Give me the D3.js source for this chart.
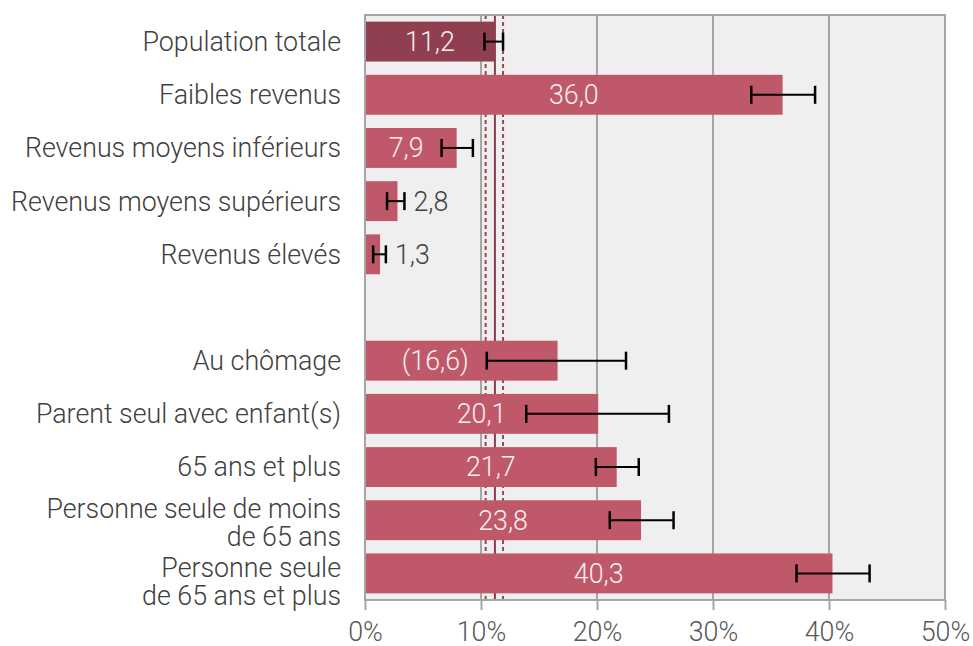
<!DOCTYPE html>
<html><head><meta charset="utf-8">
<script src="https://cdn.jsdelivr.net/npm/d3@7"></script>
<style>
body{margin:0;background:#fff;}
svg{font-family:Roboto,"Noto Sans",sans-serif;}
</style></head>
<body><svg id="c" width="973" height="646"></svg>
<script>
// Data
const categories = [
  ["Population totale"],
  ["Faibles revenus"],
  ["Revenus moyens inférieurs"],
  ["Revenus moyens supérieurs"],
  ["Revenus élevés"],
  null,
  ["Au chômage"],
  ["Parent seul avec enfant(s)"],
  ["65 ans et plus"],
  ["Personne seule de moins", "de 65 ans"],
  ["Personne seule", "de 65 ans et plus"]
];
const values = [11.2, 36.0, 7.9, 2.8, 1.3, null, 16.6, 20.1, 21.7, 23.8, 40.3];
const valueLabels = ["11,2", "36,0", "7,9", "2,8", "1,3", null, "(16,6)", "20,1", "21,7", "23,8", "40,3"];
const lower = [10.3, 33.3, 6.6, 1.9, 0.7, null, 10.5, 13.9, 19.9, 21.1, 37.2];
const upper = [11.9, 38.8, 9.3, 3.4, 1.8, null, 22.5, 26.2, 23.6, 26.6, 43.5];
const refMean = 11.2, refLow = 10.4, refHigh = 11.9;
const xTicks = [0, 10, 20, 30, 40, 50];
const xTickLabels = ["0%", "10%", "20%", "30%", "40%", "50%"];

const FS = 26.8;
const svg = d3.select("#c");
const L = 365, R = 945, T = 15, B = 600;
const x = d3.scaleLinear().domain([0, 50]).range([L, R]);
const y = d3.scaleBand().domain(d3.range(categories.length)).range([T, B]).paddingInner(0.25).paddingOuter(0.125);

// background
svg.append("rect").attr("x", L).attr("y", T).attr("width", R - L).attr("height", B - T).attr("fill", "#efefef");

// gridlines
svg.append("g").selectAll("line").data(xTicks.slice(1, -1)).join("line")
  .attr("x1", d => x(d)).attr("x2", d => x(d)).attr("y1", T).attr("y2", B)
  .attr("stroke", "#a6a6a6").attr("stroke-width", 2);

// reference lines
const ref = svg.append("g");
ref.append("line").attr("x1", x(refMean)).attr("x2", x(refMean)).attr("y1", T).attr("y2", B)
  .attr("stroke", "#8e3a4c").attr("stroke-width", 2);
[refLow, refHigh].forEach(v => {
  ref.append("line").attr("x1", x(v)).attr("x2", x(v)).attr("y1", T).attr("y2", B)
    .attr("stroke", "#9b4455").attr("stroke-width", 2).attr("stroke-dasharray", "4,3");
});

const idx = d3.range(categories.length).filter(i => values[i] != null);

// bars
svg.append("g").selectAll("rect").data(idx).join("rect")
  .attr("x", x(0)).attr("y", i => y(i)).attr("width", i => x(values[i]) - x(0)).attr("height", y.bandwidth())
  .attr("fill", i => i === 0 ? "#8f3f4f" : "#bf5869");

// border
svg.append("rect").attr("x", L).attr("y", T).attr("width", R - L).attr("height", B - T)
  .attr("fill", "none").attr("stroke", "#a6a6a6").attr("stroke-width", 2);

// axis
const axis = svg.append("g").attr("transform", `translate(0,${B})`)
  .call(d3.axisBottom(x).tickValues(xTicks).tickFormat((d, i) => xTickLabels[i]).tickSize(10).tickPadding(12));
axis.select(".domain").attr("stroke", "#a6a6a6").attr("stroke-width", 2).attr("d", `M${L},0H${R}`);
axis.selectAll(".tick line").attr("stroke", "#a6a6a6").attr("stroke-width", 2);
axis.selectAll(".tick text").attr("font-size", FS).attr("fill", "#595959").attr("font-family", "Roboto").attr("font-weight", 300);

// value labels: centred in the bar, but kept clear of the lower error-bar cap
const vl = svg.append("g").selectAll("text").data(idx).join("text")
  .attr("y", i => y(i) + y.bandwidth() / 2)
  .attr("dy", "0.35em")
  .attr("text-anchor", i => values[i] > 5 ? "middle" : "start")
  .attr("font-size", FS).attr("font-weight", 300)
  .attr("fill", i => values[i] > 5 ? "#f7f0f1" : "#404040")
  .text(i => valueLabels[i]);
vl.attr("x", function(i) {
  if (values[i] <= 5) return x(upper[i]) + 9;
  const w = this.getComputedTextLength();
  return Math.min((x(0) + x(values[i])) / 2, x(lower[i]) - 18 - w / 2);
});

// error bars
const eb = svg.append("g").attr("stroke", "#000");
idx.forEach(i => {
  const cy = y(i) + y.bandwidth() / 2;
  eb.append("line").attr("x1", x(lower[i])).attr("x2", x(upper[i])).attr("y1", cy).attr("y2", cy).attr("stroke-width", 2);
  [lower[i], upper[i]].forEach(v => {
    eb.append("line").attr("x1", x(v)).attr("x2", x(v)).attr("y1", cy - 9).attr("y2", cy + 9).attr("stroke-width", 2.5);
  });
});

// category labels (two-line labels: last row sits a little lower)
const lab = svg.append("g");
d3.range(categories.length).forEach(i => {
  const c = categories[i];
  if (!c) return;
  const cy = y(i) + y.bandwidth() / 2;
  const lh = 28;
  const shift = c.length > 1 ? (i === categories.length - 1 ? 8 : 2) : 0;
  c.forEach((line, k) => {
    lab.append("text").attr("text-anchor", "end").attr("font-size", FS).attr("font-weight", 300).attr("fill", "#404040")
      .attr("x", 341).attr("y", cy + shift + (k - (c.length - 1) / 2) * lh).attr("dy", "0.35em").text(line);
  });
});
</script></body></html>
